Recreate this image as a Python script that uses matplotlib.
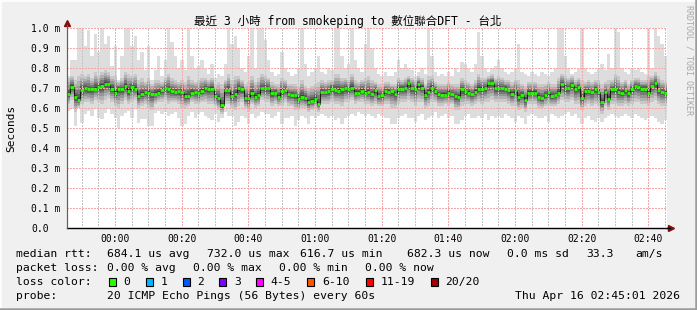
import numpy as np
import matplotlib
matplotlib.use('Agg')
import matplotlib.pyplot as plt
from matplotlib.patches import Rectangle
from matplotlib.lines import Line2D

W, H = 697, 310
MONO = ['DejaVu Sans Mono', 'Noto Sans CJK TC']

# ---------------- data (ms) ----------------
median = [
    0.670, 0.707, 0.655, 0.640, 0.690, 0.700, 0.693, 0.693, 0.697, 0.705, 0.710, 0.722, 0.718, 0.697, 0.677,
    0.697, 0.693, 0.710, 0.683, 0.705, 0.697, 0.660, 0.668, 0.680, 0.677, 0.668, 0.672, 0.677, 0.688, 0.698,
    0.693, 0.683, 0.680, 0.683, 0.680, 0.660, 0.660, 0.677, 0.680, 0.673, 0.685, 0.698, 0.693, 0.697, 0.660,
    0.652, 0.613, 0.688, 0.688, 0.660, 0.668, 0.698, 0.693, 0.648, 0.648, 0.673, 0.657, 0.663, 0.698, 0.700,
    0.700, 0.673, 0.677, 0.657, 0.685, 0.690, 0.670, 0.665, 0.663, 0.643, 0.657, 0.648, 0.630, 0.635, 0.647,
    0.618, 0.680, 0.680, 0.683, 0.697, 0.690, 0.687, 0.693, 0.700, 0.693, 0.702, 0.677, 0.677, 0.687, 0.677,
    0.680, 0.668, 0.690, 0.660, 0.663, 0.685, 0.682, 0.683, 0.670, 0.697, 0.697, 0.698, 0.723, 0.700, 0.693,
    0.718, 0.702, 0.667, 0.680, 0.702, 0.685, 0.670, 0.667, 0.667, 0.677, 0.670, 0.660, 0.655, 0.693, 0.683,
    0.677, 0.668, 0.682, 0.697, 0.697, 0.700, 0.723, 0.727, 0.700, 0.700, 0.700, 0.697, 0.690, 0.672, 0.690,
    0.653, 0.665, 0.640, 0.677, 0.677, 0.677, 0.657, 0.648, 0.665, 0.678, 0.660, 0.663, 0.677, 0.718, 0.700,
    0.698, 0.713, 0.693, 0.703, 0.652, 0.685, 0.685, 0.680, 0.693, 0.682, 0.630, 0.680, 0.647, 0.693, 0.693,
    0.680, 0.677, 0.690, 0.673, 0.693, 0.710, 0.705, 0.697, 0.697, 0.677, 0.710, 0.723, 0.690, 0.680, 0.677,
]
rtt_max = [
    0.76, 0.84, 0.84, 1.00, 1.00, 0.91, 0.99, 0.86, 0.97, 0.88, 1.00, 0.92, 0.96, 0.81, 0.91,
    0.74, 0.86, 1.00, 1.00, 0.91, 0.96, 0.84, 0.88, 0.79, 0.91, 0.74, 0.79, 0.86, 0.76, 0.84,
    1.00, 0.93, 0.86, 0.80, 0.84, 0.79, 1.00, 0.86, 0.80, 0.81, 0.84, 0.80, 0.77, 0.82, 0.75,
    0.77, 0.76, 0.82, 1.00, 0.92, 0.96, 0.90, 0.80, 0.78, 0.86, 1.00, 0.80, 1.00, 1.00, 0.94,
    0.84, 0.78, 0.76, 0.77, 0.88, 0.80, 0.78, 0.76, 0.77, 0.80, 1.00, 0.82, 0.76, 0.78, 0.80,
    0.86, 0.78, 0.77, 0.80, 0.79, 1.00, 1.00, 0.86, 0.80, 0.82, 1.00, 0.84, 0.80, 0.78, 0.92,
    1.00, 0.90, 0.80, 0.77, 0.76, 0.78, 0.76, 0.76, 0.78, 0.84, 0.80, 0.82, 0.80, 0.79, 0.76,
    0.78, 0.80, 0.77, 1.00, 0.86, 0.78, 0.76, 0.77, 0.76, 0.78, 0.76, 0.80, 0.78, 0.83, 0.82,
    0.80, 0.78, 0.82, 0.98, 0.86, 0.80, 0.78, 0.80, 0.81, 0.84, 0.80, 0.78, 0.77, 0.78, 0.80,
    0.92, 0.78, 0.77, 0.76, 0.78, 0.77, 0.76, 0.78, 0.77, 0.76, 0.78, 0.80, 1.00, 1.00, 0.86,
    0.80, 0.77, 0.78, 0.80, 1.00, 0.80, 0.78, 0.77, 0.78, 0.80, 0.82, 0.79, 0.87, 0.80, 1.00,
    0.98, 0.80, 0.78, 0.77, 0.80, 0.79, 0.80, 0.78, 0.77, 1.00, 0.80, 1.00, 0.96, 0.92, 0.86,
]
rtt_min = [
    0.585, 0.593, 0.510, 0.602, 0.527, 0.568, 0.585, 0.560, 0.593, 0.552, 0.543, 0.577, 0.593, 0.568, 0.552,
    0.502, 0.560, 0.577, 0.585, 0.552, 0.597, 0.527, 0.543, 0.543, 0.510, 0.510, 0.577, 0.585, 0.568, 0.580,
    0.56, 0.57, 0.58, 0.55, 0.51, 0.52, 0.56, 0.58, 0.55, 0.57, 0.58, 0.56, 0.55, 0.54, 0.57,
    0.53, 0.55, 0.58, 0.56, 0.56, 0.51, 0.53, 0.56, 0.55, 0.52, 0.57, 0.55, 0.56, 0.58, 0.57,
    0.57, 0.55, 0.56, 0.58, 0.52, 0.55, 0.55, 0.56, 0.51, 0.54, 0.56, 0.55, 0.52, 0.56, 0.55,
    0.56, 0.57, 0.56, 0.55, 0.56, 0.54, 0.55, 0.52, 0.55, 0.56, 0.57, 0.56, 0.58, 0.57, 0.56,
    0.57, 0.56, 0.55, 0.57, 0.56, 0.55, 0.55, 0.52, 0.52, 0.55, 0.56, 0.57, 0.55, 0.55, 0.53,
    0.56, 0.57, 0.54, 0.55, 0.56, 0.58, 0.55, 0.56, 0.57, 0.55, 0.56, 0.52, 0.52, 0.54, 0.56,
    0.57, 0.55, 0.55, 0.56, 0.55, 0.57, 0.54, 0.56, 0.55, 0.56, 0.55, 0.57, 0.56, 0.55, 0.53,
    0.56, 0.55, 0.52, 0.56, 0.57, 0.56, 0.55, 0.55, 0.56, 0.53, 0.57, 0.56, 0.55, 0.56, 0.57,
    0.58, 0.56, 0.57, 0.55, 0.52, 0.55, 0.56, 0.54, 0.53, 0.55, 0.53, 0.55, 0.56, 0.57, 0.56,
    0.55, 0.56, 0.57, 0.56, 0.55, 0.57, 0.56, 0.55, 0.54, 0.55, 0.56, 0.55, 0.53, 0.52, 0.54,
]
band_hi = [
    0.75, 0.76, 0.74, 0.76, 0.77, 0.76, 0.77, 0.75, 0.78, 0.76, 0.78, 0.79, 0.78, 0.76, 0.76,
    0.73, 0.75, 0.78, 0.77, 0.76, 0.77, 0.74, 0.75, 0.73, 0.75, 0.72, 0.74, 0.74, 0.73, 0.75,
    0.77, 0.75, 0.74, 0.73, 0.74, 0.73, 0.76, 0.74, 0.73, 0.74, 0.75, 0.75, 0.74, 0.75, 0.72,
    0.73, 0.72, 0.74, 0.77, 0.74, 0.76, 0.76, 0.74, 0.72, 0.73, 0.76, 0.73, 0.75, 0.77, 0.76,
    0.75, 0.73, 0.72, 0.72, 0.75, 0.74, 0.72, 0.72, 0.72, 0.71, 0.74, 0.71, 0.70, 0.71, 0.72,
    0.73, 0.74, 0.73, 0.74, 0.74, 0.77, 0.77, 0.75, 0.75, 0.74, 0.77, 0.74, 0.73, 0.74, 0.75,
    0.76, 0.74, 0.73, 0.72, 0.72, 0.73, 0.73, 0.72, 0.72, 0.75, 0.74, 0.75, 0.76, 0.75, 0.74,
    0.76, 0.75, 0.72, 0.76, 0.76, 0.73, 0.72, 0.72, 0.72, 0.73, 0.72, 0.72, 0.72, 0.75, 0.74,
    0.73, 0.72, 0.74, 0.77, 0.75, 0.75, 0.76, 0.77, 0.75, 0.76, 0.75, 0.74, 0.74, 0.73, 0.74,
    0.74, 0.72, 0.71, 0.73, 0.73, 0.73, 0.72, 0.72, 0.72, 0.73, 0.72, 0.72, 0.75, 0.77, 0.76,
    0.75, 0.76, 0.74, 0.75, 0.74, 0.73, 0.74, 0.73, 0.74, 0.74, 0.72, 0.73, 0.74, 0.74, 0.77,
    0.76, 0.73, 0.74, 0.72, 0.74, 0.75, 0.75, 0.74, 0.74, 0.76, 0.76, 0.78, 0.76, 0.74, 0.73,
]
band_lo = [
    0.62, 0.64, 0.58, 0.60, 0.62, 0.63, 0.63, 0.62, 0.64, 0.63, 0.62, 0.64, 0.65, 0.63, 0.61,
    0.60, 0.62, 0.64, 0.62, 0.63, 0.64, 0.60, 0.61, 0.62, 0.60, 0.59, 0.62, 0.63, 0.63, 0.64,
    0.62, 0.63, 0.63, 0.62, 0.60, 0.60, 0.61, 0.63, 0.62, 0.62, 0.63, 0.63, 0.62, 0.62, 0.61,
    0.59, 0.57, 0.62, 0.62, 0.60, 0.59, 0.61, 0.63, 0.60, 0.58, 0.62, 0.60, 0.61, 0.64, 0.63,
    0.63, 0.61, 0.62, 0.61, 0.61, 0.63, 0.61, 0.61, 0.59, 0.59, 0.60, 0.60, 0.58, 0.59, 0.60,
    0.58, 0.62, 0.62, 0.62, 0.63, 0.62, 0.62, 0.61, 0.63, 0.63, 0.64, 0.62, 0.63, 0.63, 0.62,
    0.62, 0.61, 0.62, 0.61, 0.61, 0.62, 0.62, 0.60, 0.60, 0.62, 0.63, 0.63, 0.64, 0.63, 0.61,
    0.63, 0.63, 0.60, 0.61, 0.63, 0.63, 0.61, 0.61, 0.62, 0.61, 0.62, 0.59, 0.59, 0.61, 0.62,
    0.62, 0.61, 0.62, 0.63, 0.62, 0.63, 0.63, 0.64, 0.63, 0.63, 0.63, 0.63, 0.62, 0.61, 0.61,
    0.59, 0.60, 0.58, 0.62, 0.62, 0.62, 0.60, 0.60, 0.61, 0.61, 0.61, 0.61, 0.62, 0.64, 0.63,
    0.63, 0.64, 0.62, 0.62, 0.59, 0.61, 0.62, 0.61, 0.62, 0.61, 0.57, 0.61, 0.59, 0.62, 0.62,
    0.61, 0.61, 0.62, 0.61, 0.62, 0.63, 0.63, 0.62, 0.62, 0.61, 0.63, 0.64, 0.62, 0.61, 0.61,
]

x_major = [0, 20, 40, 60, 80, 100, 120, 140, 160]           # minutes after 00:00
x_labels = ['00:00', '00:20', '00:40', '01:00', '01:20', '01:40', '02:00', '02:20', '02:40']
y_ticks = [0.0, 0.1, 0.2, 0.3, 0.4, 0.5, 0.6, 0.7, 0.8, 0.9, 1.0]
y_labels = ['0.0', '0.1 m', '0.2 m', '0.3 m', '0.4 m', '0.5 m', '0.6 m', '0.7 m', '0.8 m', '0.9 m', '1.0 m']

title = '最近 3 小時 from smokeping to 數位聯合DFT - 台北'
rtt_stats = ['684.1 us avg', '732.0 us max', '616.7 us min', '682.3 us now', '0.0 ms sd', '33.3', 'am/s']
loss_stats = ['0.00 % avg', '0.00 % max', '0.00 % min', '0.00 % now']
loss_labels = ['0', '1', '2', '3', '4-5', '6-10', '11-19', '20/20']
loss_colors = ['#26ff00', '#00b8ff', '#0059ff', '#7e00ff', '#ff00ff', '#ff5500', '#ff0000', '#a10000']
probe_text = '20 ICMP Echo Pings (56 Bytes) every 60s'
stamp_text = 'Thu Apr 16 02:45:01 2026'

# ---------------- figure ----------------
fig = plt.figure(figsize=(W / 100, H / 100), dpi=100, facecolor='#f0f0f0')


def fx(x):
    return x / W


def fy(y):
    return 1 - y / H


ax = fig.add_axes([fx(67), fy(228), 600 / W, 200 / H])
ax.set_facecolor('white')

t0 = -14.4
edges = t0 + np.arange(len(median) + 1)
ax.set_xlim(t0, t0 + 180)
ax.set_ylim(0, 1.0)

med = np.array(median)
hi = np.array(band_hi)
lo = np.array(band_lo)

# smoke
ax.stairs(rtt_max, edges, baseline=rtt_min, fill=True, color='#dddddd', lw=0, zorder=1)
shades = [(1.0, '#c8c8c8'), (0.78, '#b0b0b0'), (0.58, '#969696'), (0.40, '#7a7a7a'),
          (0.25, '#5e5e5e'), (0.12, '#444444')]
for f, c in shades:
    top = med + (hi - med) * f
    bot = med - (med - lo) * f
    ax.stairs(top, edges, baseline=bot, fill=True, color=c, lw=0, zorder=2)

# grid (on top of smoke, like rrdtool)
grid_kw = dict(lw=1.0, ls=(0, (1.4, 1.4)), antialiased=False, zorder=3)
for m in np.arange(-10, 170, 5):
    if m % 20 == 0:
        continue
    ax.axvline(m, color='#c4c4c4', **grid_kw)
for m in x_major:
    ax.axvline(m, color='#f4a8a8', **grid_kw)
for v in y_ticks[1:]:
    ax.axhline(v, color='#f4a8a8', **grid_kw)

# median
ax.stairs(med, edges, baseline=None, color='#1a1a1a', lw=0.7, zorder=4)
ax.hlines(med, edges[:-1], edges[1:], colors=loss_colors[0], lw=2.0, zorder=5,
          capstyle='butt')

# axes styling
for s in ['top', 'right']:
    ax.spines[s].set_visible(False)
ax.spines['left'].set_color('#606060')
ax.spines['left'].set_linewidth(0.8)
ax.spines['bottom'].set_color('black')
ax.spines['bottom'].set_linewidth(1.0)

ax.set_xticks(x_major)
ax.set_xticklabels(x_labels, family=MONO, fontsize=7.0)
ax.tick_params(axis='x', length=0, pad=4)
ax.set_yticks(y_ticks)
ax.set_yticklabels(y_labels, family=MONO, fontsize=7.0)
ax.tick_params(axis='y', length=0, pad=26)
for lab in ax.get_yticklabels():
    lab.set_horizontalalignment('left')

# arrows
fig.add_artist(Line2D([fx(667), fx(670)], [fy(228), fy(228)], color='black', lw=1.0))
fig.add_artist(Line2D([fx(67), fx(67)], [fy(228), fy(25)], color='#606060', lw=0.8))
ax.plot([1.0 + 4 / 600], [0], marker='>', color='#7f1010', markersize=4, clip_on=False,
        transform=ax.transAxes, zorder=6)
ax.plot([0], [1.0 + 5 / 200], marker='^', color='#7f1010', markersize=4, clip_on=False,
        transform=ax.transAxes, zorder=6)

# texts
fig.text(fx(347.5), fy(21), title, family=MONO, fontsize=8.3, ha='center', va='center')
fig.text(fx(11), fy(128), 'Seconds', family=MONO, fontsize=8.0, rotation=90,
         ha='center', va='center')
fig.text(fx(689), fy(60), 'RRDTOOL / TOBI OETIKER', family=MONO, fontsize=6.0,
         rotation=270, ha='center', va='center', color='#a8a8a8')

LS = 8.2
row1 = [16, 107.3, 207.3, 300, 406.7, 507.3, 586.7, 635.7]
fig.text(fx(row1[0]), fy(254), 'median rtt:', family=MONO, fontsize=LS, va='center')
for x, s in zip(row1[1:], rtt_stats):
    fig.text(fx(x), fy(254), s, family=MONO, fontsize=LS, va='center')

row2 = [16, 107.3, 193.3, 279.3, 365]
fig.text(fx(row2[0]), fy(268), 'packet loss:', family=MONO, fontsize=LS, va='center')
for x, s in zip(row2[1:], loss_stats):
    fig.text(fx(x), fy(268), s, family=MONO, fontsize=LS, va='center')

fig.text(fx(16), fy(282), 'loss color:', family=MONO, fontsize=LS, va='center')
box_x = [108.7, 145.7, 182.7, 219.3, 256, 307.3, 365.7, 430.7]
for x, lab, c in zip(box_x, loss_labels, loss_colors):
    fig.add_artist(Rectangle((fx(x), fy(286.3)), 7 / W, 8 / H, transform=fig.transFigure,
                             facecolor=c, edgecolor='black', lw=0.8))
    fig.text(fx(x + 14.7), fy(282), lab, family=MONO, fontsize=LS, va='center')

fig.text(fx(16), fy(296), 'probe:', family=MONO, fontsize=LS, va='center')
fig.text(fx(107.3), fy(296), probe_text, family=MONO, fontsize=LS, va='center')
fig.text(fx(680), fy(296), stamp_text, family=MONO, fontsize=LS, va='center', ha='right')

# 3D frame
fig.add_artist(Line2D([0, 1], [fy(0.5), fy(0.5)], color='#fcfcfc', lw=1.5))
fig.add_artist(Line2D([fx(0.5), fx(0.5)], [0, 1], color='#fcfcfc', lw=1.5))
fig.add_artist(Line2D([0, 1], [fy(309), fy(309)], color='#9c9c9c', lw=1.8))
fig.add_artist(Line2D([fx(696), fx(696)], [0, 1], color='#9c9c9c', lw=1.8))

fig.savefig('out.png', dpi=100, facecolor=fig.get_facecolor())
